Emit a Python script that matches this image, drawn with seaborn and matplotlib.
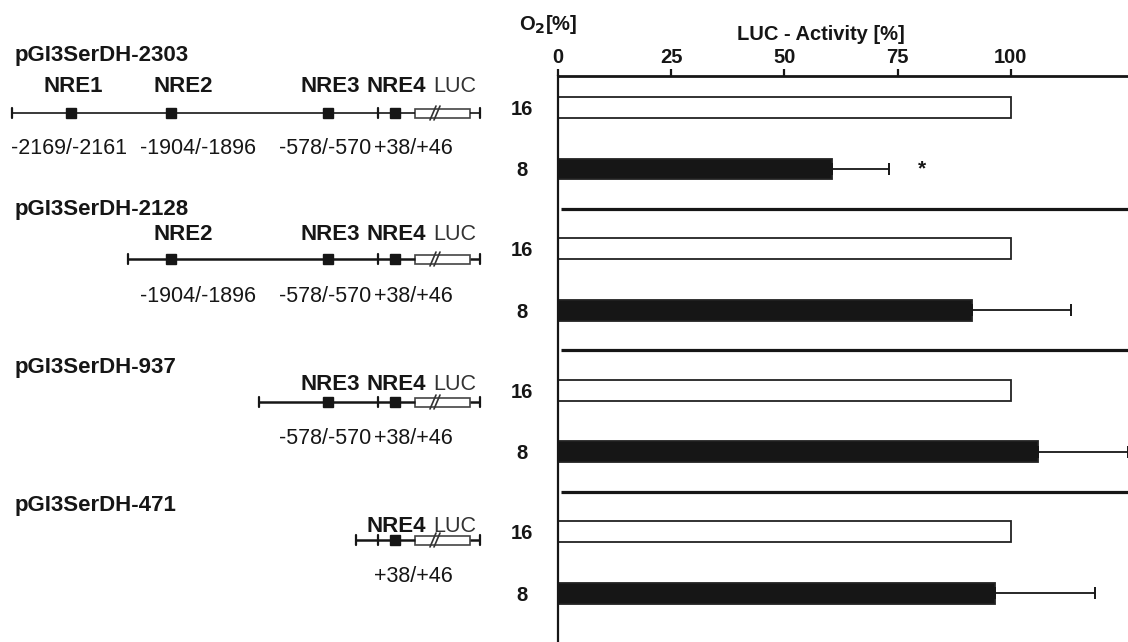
import numpy as np
import pandas as pd
import matplotlib
matplotlib.use("Agg")
import matplotlib.pyplot as plt
from matplotlib.patches import Rectangle
from matplotlib import font_manager
import seaborn as sns

# ---------------- data ----------------
constructs = ["pGI3SerDH-2303", "pGI3SerDH-2128", "pGI3SerDH-937", "pGI3SerDH-471"]
o2_levels = ["16", "8"]
activity_16 = [100, 100, 100, 100]
activity_8 = [60.6, 91.4, 106.0, 96.6]
sd_8 = [12.5, 22.0, 20.0, 22.0]
significant = [True, False, False, False]
x_ticks = [0, 25, 50, 75, 100]

nre_names = ["NRE1", "NRE2", "NRE3", "NRE4"]
nre_sites = ["-2169/-2161", "-1904/-1896", "-578/-570", "+38/+46"]
nre_present = [[1, 1, 1, 1], [0, 1, 1, 1], [0, 0, 1, 1], [0, 0, 0, 1]]

# ---------------- style ----------------
sns.set_theme(style="white")
names = {f.name for f in font_manager.fontManager.ttflist}
base_font = "Liberation Sans" if "Liberation Sans" in names else "DejaVu Sans"
narrow_font = "Liberation Sans Narrow" if "Liberation Sans Narrow" in names else base_font
plt.rcParams["font.family"] = [base_font, "DejaVu Sans"]
ink = "#161616"

W, H = 1128, 642
fig = plt.figure(figsize=(W / 100, H / 100), dpi=100)

# ---------------- promoter maps (pixel-based canvas) ----------------
mp = fig.add_axes([0, 0, 1, 1])
mp.set_xlim(0, W)
mp.set_ylim(H, 0)
mp.axis("off")

nre_x = [71, 171, 328, 395]
nre_label_x = [73, 183, 330, 396]
site_label_x = [69, 198, 325, 413]
start_x = [12, 128, 259, 356]
tick_x = 378
luc_x0, luc_x1, end_x = 415, 470, 480
name_y = [55, 209, 368, 505]
nre_y = [87, 235, 384, 527]
line_y = [113, 259, 402, 540]
site_y = [148, 297, 438, 577]

for i, name in enumerate(constructs):
    mp.text(15, name_y[i], name, fontsize=16, fontweight="bold", va="center",
            ha="left", color=ink)
    y = line_y[i]
    lw = 1.2 if i == 0 else 1.8
    mp.plot([start_x[i], luc_x0], [y, y], color=ink, lw=lw, solid_capstyle="butt")
    mp.plot([luc_x1, end_x], [y, y], color=ink, lw=lw, solid_capstyle="butt")
    for tx in (start_x[i], tick_x, end_x):
        mp.plot([tx, tx], [y - 5, y + 5], color=ink, lw=1.6)
    for k in range(4):
        if nre_present[i][k]:
            mp.plot(nre_x[k], y, marker="s", ms=7, color=ink, mec=ink)
            mp.text(nre_label_x[k], nre_y[i], nre_names[k], fontsize=16,
                    fontweight="bold", ha="center", va="center", color=ink)
            mp.text(site_label_x[k], site_y[i], nre_sites[k], fontsize=15.5,
                    ha="center", va="center", color=ink)
    mp.text(455, nre_y[i], "LUC", fontsize=15.5, ha="center", va="center", color="#333333")
    mp.add_patch(Rectangle((luc_x0, y - 4.5), luc_x1 - luc_x0, 9, facecolor="white",
                           edgecolor="#444444", lw=1.2))
    for dx in (-3, 1):
        mp.plot([433 + dx, 439 + dx], [y + 7, y - 7], color="#333333", lw=1.2)

# ---------------- activity bars ----------------
group_step = 2.3
rows = []
for g in range(len(constructs)):
    rows.append({"construct": constructs[g], "o2": "16", "pos": g * group_step,
                 "activity": activity_16[g]})
    rows.append({"construct": constructs[g], "o2": "8", "pos": g * group_step + 1,
                 "activity": activity_8[g]})
df = pd.DataFrame(rows)

ax_left = 558 / W
ax_top = 76
ax = fig.add_axes([ax_left, 0, 1 - ax_left, (H - ax_top) / H])
ax.patch.set_alpha(0)

sns.barplot(data=df, x="activity", y="pos", hue="o2", hue_order=o2_levels,
            palette={"16": "white", "8": ink}, orient="h", native_scale=True,
            dodge=False, width=0.34, edgecolor="#222222", linewidth=1.3,
            errorbar=None, legend=False, ax=ax)

d8 = df[df["o2"] == "8"]
ax.errorbar(d8["activity"], d8["pos"], xerr=[np.zeros(len(sd_8)), sd_8], fmt="none",
            ecolor=ink, elinewidth=1.3, capsize=4, capthick=1.4, clip_on=False)

for g, sig in enumerate(significant):
    if sig:
        ax.text(activity_8[g] + sd_8[g] + 7.3, g * group_step + 1, "*", fontsize=15,
                fontweight="bold", ha="center", va="center", color=ink)

# group separators
sep_y = [(g * group_step + 1 + (g + 1) * group_step) / 2 for g in range(len(constructs) - 1)]
xmax = 125.9
ax.hlines(sep_y, 0.7, xmax, color=ink, lw=2.3)

ax.set_xlim(0, xmax)
y0 = (ax_top - 107.5) / 61.5
y1 = (H - 107.5) / 61.5
ax.set_ylim(y1, y0)

ax.xaxis.tick_top()
ax.set_xticks(x_ticks)
ax.set_xticklabels([str(t) for t in x_ticks], fontsize=14.5, fontweight="bold",
                   family=narrow_font)
ax.tick_params(axis="x", direction="out", length=5, width=1.6, pad=1.5, colors=ink)
ax.set_yticks(df["pos"])
ax.set_yticklabels(df["o2"], fontsize=14.5, fontweight="bold", ha="center")
ax.tick_params(axis="y", length=0, pad=26, colors=ink)
ax.set_xlabel("")
ax.set_ylabel("")

for s in ("right", "bottom"):
    ax.spines[s].set_visible(False)
ax.spines["top"].set_linewidth(2.0)
ax.spines["left"].set_linewidth(1.6)
ax.spines["top"].set_color(ink)
ax.spines["left"].set_color(ink)

fig.text(821 / W, 1 - 35 / H, "LUC - Activity [%]", fontsize=14.5, fontweight="bold",
         ha="center", va="center", color=ink)
fig.text(519 / W, 1 - 25 / H, r"O$_\mathbf{2}$[%]", fontsize=14.5, fontweight="bold",
         ha="left", va="center", color=ink)

fig.savefig("out.png", dpi=100)
